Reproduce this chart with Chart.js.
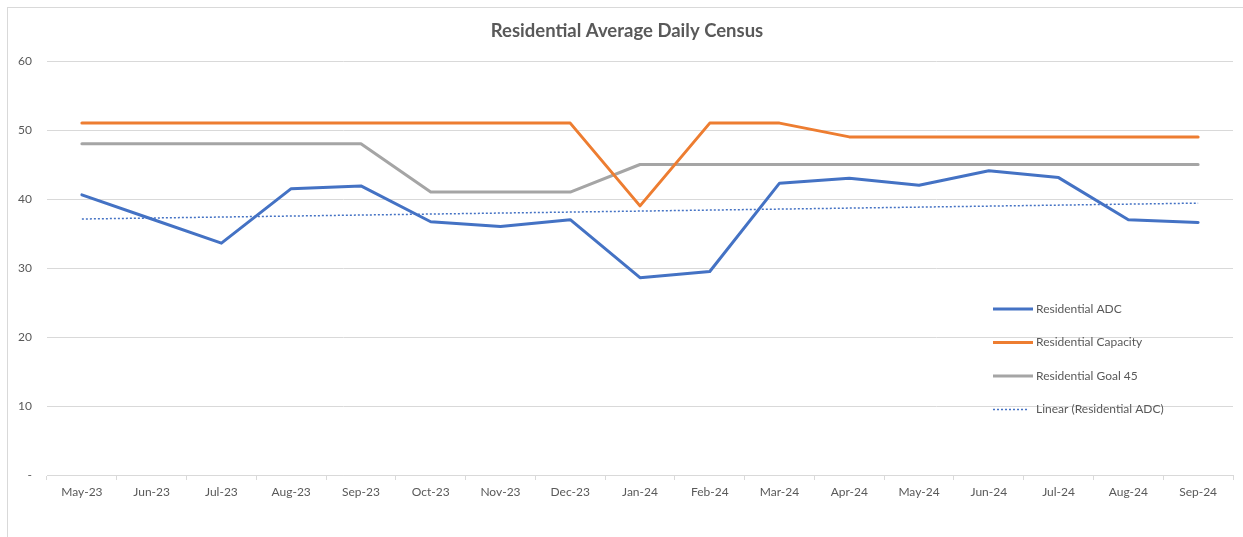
<!DOCTYPE html>
<html>
<head>
<meta charset="utf-8">
<script src="https://cdn.jsdelivr.net/npm/chart.js@4"></script>
<style>
  html, body { margin: 0; padding: 0; background: #fff; overflow: hidden; }
  #wrap { position: relative; width: 1243px; height: 537px; }
  #frame { position: absolute; left: 7px; top: 7px; width: 1260px; height: 560px; border: 1px solid #d9d9d9; box-sizing: border-box; }
  #chart { position: absolute; left: 0; top: 0; }
</style>
</head>
<body>
<div id="wrap">
  <div id="frame"></div>
  <canvas id="chart" width="1243" height="537"></canvas>
</div>
<script>
// data
const months = ['May-23', 'Jun-23', 'Jul-23', 'Aug-23', 'Sep-23', 'Oct-23', 'Nov-23', 'Dec-23', 'Jan-24',
  'Feb-24', 'Mar-24', 'Apr-24', 'May-24', 'Jun-24', 'Jul-24', 'Aug-24', 'Sep-24'];
const residentialADC = [40.6, 37.1, 33.6, 41.5, 41.9, 36.7, 36.0, 37.0, 28.6, 29.5, 42.3, 43.0, 42.0, 44.1, 43.1, 37.0, 36.6];
const residentialCapacity = [51, 51, 51, 51, 51, 51, 51, 51, 39, 51, 51, 49, 49, 49, 49, 49, 49];
const residentialGoal = [48, 48, 48, 48, 48, 41, 41, 41, 45, 45, 45, 45, 45, 45, 45, 45, 45];
// trend line: only its two ends are read, the line is drawn straight between them
const trendStart = 37.1;
const trendEnd = 39.4;
const yTicks = [0, 10, 20, 30, 40, 50, 60];

const textColor = '#595959';
const gridColor = '#d9d9d9';
const fontFamily = 'Lato, "Open Sans", sans-serif';

let trendData = months.map(() => null);
trendData[0] = trendStart;
trendData[months.length - 1] = trendEnd;

// title + in-plot legend, drawn like the Excel chart
const excelExtras = {
  id: 'excelExtras',
  afterDraw(chart) {
    const ctx = chart.ctx;
    ctx.save();
    ctx.fillStyle = textColor;
    ctx.font = 'bold 18.5px ' + fontFamily;
    ctx.textAlign = 'center';
    ctx.textBaseline = 'middle';
    ctx.fillText('Residential Average Daily Census', 627, 31);

    ctx.font = '12px ' + fontFamily;
    ctx.textAlign = 'left';
    chart.data.datasets.forEach((ds, i) => {
      const y = 309 + i * 33.5;
      ctx.beginPath();
      ctx.strokeStyle = ds.borderColor;
      ctx.lineWidth = ds.borderWidth;
      ctx.setLineDash(ds.borderDash || []);
      ctx.moveTo(993, y);
      ctx.lineTo(ds.borderDash ? 1029 : 1033, y);
      ctx.stroke();
      ctx.setLineDash([]);
      ctx.fillText(ds.label, 1036, y);
    });
    ctx.restore();
  }
};

const ctx = document.getElementById('chart').getContext('2d');
new Chart(ctx, {
  type: 'line',
  data: {
    labels: months,
    datasets: [
      { label: 'Residential ADC', data: residentialADC, borderColor: '#4472C4', borderWidth: 3 },
      { label: 'Residential Capacity', data: residentialCapacity, borderColor: '#ED7D31', borderWidth: 3 },
      { label: 'Residential Goal 45', data: residentialGoal, borderColor: '#A5A5A5', borderWidth: 3 },
      { label: 'Linear (Residential ADC)', data: trendData, borderColor: '#4472C4', borderWidth: 1.5,
        borderDash: [2, 2], spanGaps: true, borderCapStyle: 'butt' }
    ]
  },
  options: {
    responsive: false,
    animation: false,
    layout: { padding: { top: 61, left: 0, right: 10, bottom: 0 } },
    elements: {
      point: { radius: 0, hoverRadius: 0 },
      line: { tension: 0, borderCapStyle: 'round', borderJoinStyle: 'round' }
    },
    plugins: {
      legend: { display: false },
      title: { display: false },
      tooltip: { enabled: false }
    },
    scales: {
      x: {
        offset: true,
        grid: { offset: true, drawOnChartArea: false, drawTicks: true, tickLength: 5, color: gridColor },
        border: { display: true, color: gridColor },
        ticks: { color: textColor, font: { family: fontFamily, size: 12 }, padding: 5, maxRotation: 0, autoSkip: false },
        afterFit(scale) { scale.height = 62; }
      },
      y: {
        min: 0,
        max: 60,
        afterBuildTicks(scale) { scale.ticks = yTicks.map(v => ({ value: v })); },
        grid: { color: gridColor, drawTicks: false },
        border: { display: false },
        ticks: {
          color: textColor,
          font: { family: fontFamily, size: 12 },
          padding: 15,
          callback: v => v === 0 ? '-' : v
        },
        afterFit(scale) { scale.width = 47; }
      }
    }
  },
  plugins: [excelExtras]
});
</script>
</body>
</html>
